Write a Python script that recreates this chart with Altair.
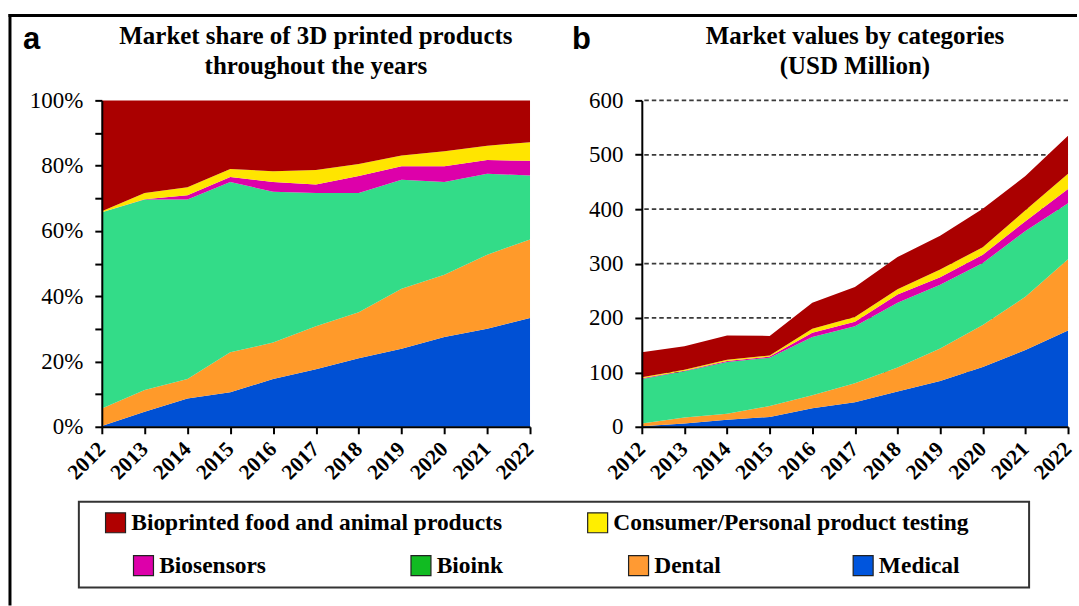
import altair as alt
import pandas as pd

# ---------------- data ----------------
years = list(range(2012, 2023))
categories = ["Medical", "Dental", "Bioink", "Biosensors",
              "Consumer/Personal product testing", "Bioprinted food and animal products"]
area_colors = ["#0050D4", "#FF9A2A", "#33DC88", "#DD00AA", "#FFE500", "#AA0000"]

# panel a: market share (%)
share_medical = [0.2, 4.6, 8.7, 10.6, 14.6, 17.6, 21.0, 23.9, 27.5, 30.0, 33.3]
share_dental = [5.4, 6.7, 5.9, 12.2, 11.2, 13.2, 14.1, 18.4, 19.1, 22.7, 24.1]
share_bioink = [60.1, 58.3, 55.0, 52.2, 46.2, 40.8, 36.5, 33.4, 28.4, 24.8, 19.6]
share_biosensors = [0.0, 0.1, 1.3, 1.5, 3.0, 2.6, 5.2, 4.1, 4.8, 4.2, 4.5]
share_consumer = [0.3, 1.9, 2.5, 2.5, 3.3, 4.5, 3.7, 3.3, 4.6, 4.4, 5.7]
share_food = [34.0, 28.4, 26.6, 21.0, 21.7, 21.3, 19.5, 16.9, 15.6, 13.9, 12.8]

# panel b: market values (USD million)
val_medical = [1, 6, 13, 18, 34, 45, 65, 84, 110, 141, 177]
val_dental = [5, 11, 11, 20, 24, 35, 44, 60, 77, 98, 131]
val_bioink = [82, 85, 95, 89, 107, 105, 119, 117, 114, 121, 103]
val_biosensors = [1, 1, 2, 2, 8, 8, 15, 14, 15, 18, 26]
val_consumer = [2, 2, 2, 2, 7, 9, 10, 14, 14, 20, 28]
val_food = [46, 43, 45, 36, 48, 55, 59, 62, 71, 63, 70]

pct_ticks = [0, 10, 20, 30, 40, 50, 60, 70, 80, 90, 100]
usd_ticks = [0, 100, 200, 300, 400, 500, 600]
usd_grid = [100, 200, 300, 400, 500, 600]

title_a = ["Market share of 3D printed products", "throughout the years"]
title_b = ["Market values by categories", "(USD Million)"]

legend_row1 = ["Bioprinted food and animal products", "Consumer/Personal product testing"]
legend_row1_colors = ["#B00000", "#FFEE00"]
legend_row2a = ["Biosensors", "Bioink"]
legend_row2a_colors = ["#DD00AA", "#11BB22"]
legend_row2b = ["Dental", "Medical"]
legend_row2b_colors = ["#FF9A33", "#0055DD"]

# ---------------- tables ----------------
def long_table(series):
    rows = []
    for order, (cat, vals) in enumerate(zip(categories, series)):
        for y, v in zip(years, vals):
            rows.append({"year": y, "category": cat, "value": v, "order": order})
    return pd.DataFrame(rows)

df_a = long_table([share_medical, share_dental, share_bioink,
                   share_biosensors, share_consumer, share_food])
df_b = long_table([val_medical, val_dental, val_bioink,
                   val_biosensors, val_consumer, val_food])

SERIF = "Liberation Serif"
PW, PH = 429, 327

x_axis = alt.Axis(values=years, format="d", labelAngle=-45, labelAlign="right",
                  labelBaseline="middle", labelFont=SERIF, labelFontWeight="bold",
                  labelFontSize=21.5, labelColor="black", labelPadding=12,
                  labelFlush=False, labelOverlap=False, tickSize=7, tickWidth=2,
                  tickColor="black", domainColor="black", domainWidth=2,
                  grid=False, title=None, zindex=1)


def y_axis(values, expr):
    return alt.Axis(values=values, labelExpr=expr, labelFont=SERIF, labelFontSize=23,
                    labelColor="black", labelPadding=12, tickSize=7, tickWidth=2,
                    tickColor="black", domainColor="black", domainWidth=2,
                    grid=False, title=None, zindex=1)


def title_params(text):
    return alt.TitleParams(text=text, font=SERIF, fontSize=25, fontWeight="bold",
                           color="black", anchor="middle", frame="group",
                           lineHeight=30, baseline="alphabetic", offset=-10)


color_enc = alt.Color("category:N", scale=alt.Scale(domain=categories, range=area_colors),
                      legend=None)

panel_a = alt.Chart(df_a).mark_area(interpolate="linear").encode(
    x=alt.X("year:Q", scale=alt.Scale(domain=[2012, 2022], nice=False, zero=False), axis=x_axis),
    y=alt.Y("value:Q", stack="zero", scale=alt.Scale(domain=[0, 100], nice=False),
            axis=y_axis(pct_ticks, "datum.value % 20 === 0 ? datum.value + '%' : ''")),
    color=color_enc,
    order=alt.Order("order:Q"),
).properties(width=PW, height=PH, title=title_params(title_a))

grid_b = alt.Chart(pd.DataFrame({"g": usd_grid})).mark_rule(
    color="#3a3a3a", strokeWidth=1.8, strokeDash=[4.5, 3]
).encode(y=alt.Y("g:Q", scale=alt.Scale(domain=[0, 600], nice=False)))

areas_b = alt.Chart(df_b).mark_area(interpolate="linear").encode(
    x=alt.X("year:Q", scale=alt.Scale(domain=[2012, 2022], nice=False, zero=False), axis=x_axis),
    y=alt.Y("value:Q", stack="zero", scale=alt.Scale(domain=[0, 600], nice=False),
            axis=y_axis(usd_ticks, "datum.value")),
    color=color_enc,
    order=alt.Order("order:Q"),
)

panel_b = alt.layer(grid_b, areas_b).properties(width=427, height=PH,
                                                title=title_params(title_b))

# ---------------- legend box + decorations ----------------
one = pd.DataFrame({"d": [0]})
box = alt.Chart(one).mark_rect(fill="transparent", stroke="#333", strokeWidth=2).encode(
    x=alt.value(-23), x2=alt.value(929), y=alt.value(0), y2=alt.value(86))
frame_v = alt.Chart(one).mark_rule(color="black", strokeWidth=3).encode(
    x=alt.value(-92), y=alt.value(-488.5), y2=alt.value(104))
frame_h = alt.Chart(one).mark_rule(color="black", strokeWidth=3).encode(
    x=alt.value(-93.5), x2=alt.value(977), y=alt.value(-487))
lab_a = alt.Chart(one).mark_text(text="a", font="Liberation Sans", fontSize=31,
                                 fontWeight="bold", align="left", baseline="alphabetic",
                                 color="black").encode(x=alt.value(-79), y=alt.value(-453))
lab_b = alt.Chart(one).mark_text(text="b", font="Liberation Sans", fontSize=31,
                                 fontWeight="bold", align="left", baseline="alphabetic",
                                 color="black").encode(x=alt.value(471), y=alt.value(-453))


def legend_layer(field, names, colors, lx, ly, colpad):
    return alt.Chart(pd.DataFrame({field: names})).mark_square(opacity=1, size=400).encode(
        color=alt.Color(f"{field}:N",
                        scale=alt.Scale(domain=names, range=colors),
                        legend=alt.Legend(orient="none", legendX=lx, legendY=ly,
                                          direction="horizontal", title=None,
                                          symbolType="square", symbolSize=400,
                                          symbolStrokeColor="#222", symbolStrokeWidth=1.2,
                                          symbolOpacity=1,
                                          labelFont=SERIF, labelFontWeight="bold",
                                          labelFontSize=23.5, labelColor="black",
                                          labelOffset=4, labelLimit=1000,
                                          columnPadding=colpad, padding=0))
    ).transform_filter("false")


leg1 = legend_layer("n1", legend_row1, legend_row1_colors, 2, 9, 82)
leg2a = legend_layer("n2", legend_row2a, legend_row2a_colors, 30, 52, 142)
leg2b = legend_layer("n3", legend_row2b, legend_row2b_colors, 526, 52, 129)

legend_chart = alt.layer(box, leg1, leg2a, leg2b, frame_v, frame_h, lab_a, lab_b).resolve_scale(
    color="independent").resolve_legend(color="independent").properties(width=929, height=86)

top = alt.hconcat(panel_a, panel_b, spacing=112, bounds="flush")

chart = alt.vconcat(top, legend_chart, spacing=402, bounds="flush").resolve_scale(
    color="independent").properties(
    padding={"left": 7, "top": 12, "right": 0, "bottom": 0},
    background="white",
).configure_view(strokeWidth=0)

chart.save("out.html", embed_options={"renderer": "svg", "actions": False})
